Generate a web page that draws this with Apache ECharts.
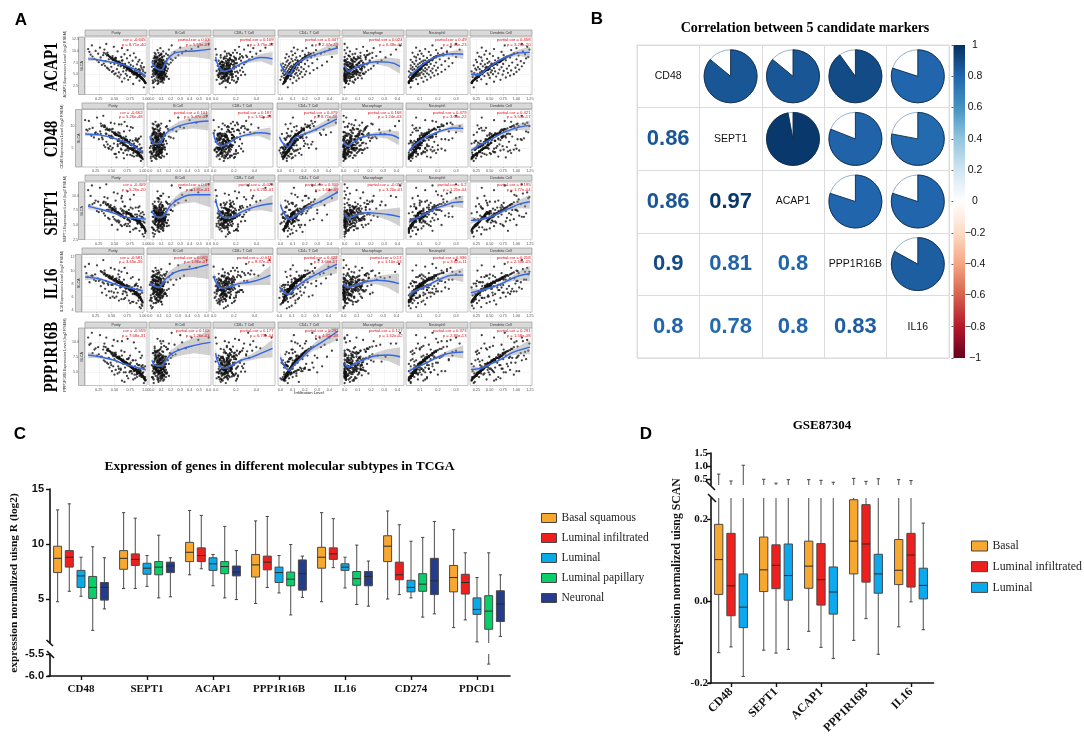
<!DOCTYPE html>
<html>
<head>
<meta charset="utf-8">
<title>BLCA markers</title>
<script src="https://cdn.jsdelivr.net/npm/echarts@6/dist/echarts.min.js"></script>
<style>
  html, body { margin: 0; background: #fff; }
  #main { width: 1084px; height: 739px; }
</style>
</head>
<body>
<div id="main"></div>
<script>
// panel A: one row per gene, one column per immune cell type
const genes = ['ACAP1', 'CD48', 'SEPT1', 'IL16', 'PPP1R16B']
const cellTypes = ['Purity', 'B Cell', 'CD8+ T Cell', 'CD4+ T Cell', 'Macrophage', 'Neutrophil', 'Dendritic Cell']

const geneRanges = [[0.65, 13], [0.6, 13.85], [2.5, 12.4], [3.64, 12.46], [2.8, 12.4]]
const geneTicks = [[2.5, 5, 7.5, 10, 12.5], [5, 10], [2.5, 5, 7.5, 10], [4, 6, 8, 10, 12], [5, 7.5, 10]]
const geneTickDec = [1, 0, 1, 0, 1]

const cellRanges = [[0.03, 1.02], [-0.03, 0.625], [-0.026, 0.584], [-0.02, 0.486], [-0.02, 0.45], [0.024, 0.366], [0.13, 1.29]]
const cellTicks = [[0.25, 0.5, 0.75, 1], [0, 0.1, 0.2, 0.3, 0.4, 0.5, 0.6], [0, 0.2, 0.4], [0, 0.1, 0.2, 0.3, 0.4], [0, 0.1, 0.2, 0.3, 0.4], [0.1, 0.2, 0.3], [0.25, 0.5, 0.75, 1, 1.25]]
const cellTickDec = [2, 1, 1, 1, 1, 1, 2]

// estimated samples, a thinned version of the cloud in the scatter panels
const xPurity = [.97,.80,.99,.62,.90,.72,.95,.66,.85,.58,.93,.75,.98,.55,.88,.70,.96,.60,.83,.92,.50,.94,.68,.86,.52,.99,.78,.57,.90,.46,.82,.96,.64,.74,.48,.91,.69,.87,.42,.95,.77,.54,.89,.40,.84,.65,.93,.38,.72,.97,.45,.80,.60,.35,.92,.56,.76,.30,.86,.50,.67,.33,.94,.44,.73,.25,.88,.58,.36,.79,.22,.63,.90,.41,.18,.70,.52,.84,.28,.61,.15,.47,.75,.32,.12,.66,.24,.81,.39,.10,.55,.20,.71,.34,.08,.62,.27,.49,.14,.37,
  .70,.93,.58,.86,.50,.97,.66,.80,.62,.90,.78,.42,.95,.72,.60,.99,.83,.65,.88,.47,.84,.55,.92,.74,.40,.76,.96,.63,.71,.89,.52,.82,.68,.98,.56,.79,.75,.94,.48,.69,.91,.61,.77,.36,1.0,.73,.64,.85,.87,.44,.67,.81,.57,.96,.72,.49,.90,.78,.53,.94,.70,.38,.84,.63,.98,.75,.46,.66,.92,.59,.80,.74,.88,.41,.77,.62,.97,.68,.83,.51,.86,.72,.45,.82,.60,.93,.69,.33,.76,.99,.55,.81,.71,.91,.43,.65,.85,.58,.89,.73,.79,.50,.95,.56,.84,.64,.92,.47,.75,.54,.87,.70,.39,.80,.61,.97,.74,.52,.86,.77]
const xB = [.02,.06,.01,.09,.04,.11,.03,.07,.12,.05,.00,.08,.13,.02,.10,.06,.14,.04,.09,.01,.11,.07,.03,.15,.05,.12,.08,.02,.10,.06,.13,.04,.09,.16,.01,.07,.11,.03,.14,.08,.05,.12,.02,.10,.17,.06,.09,.13,.04,.11,.00,.08,.15,.05,.12,.03,.10,.07,.18,.09,.02,.13,.06,.11,.20,.04,.08,.14,.01,.10,.22,.07,.12,.05,.16,.09,.25,.03,.11,.06,.19,.13,.08,.28,.10,.04,.15,.32,.07,.24,.12,.36,.06,.18,.42,.09,.30,.49,.21,.60,
  .07,.09,.12,.04,.08,.11,.06,.10,.03,.08,.13,.05,.09,.07,.11,.02,.06,.14,.08,.10,.12,.04,.07,.09,.17,.05,.11,.03,.08,.13,.06,.10,.02,.07,.15,.09,.04,.12,.08,.06,.11,.14,.03,.10,.07,.05,.09,.12,.16,.04,.08,.06,.11,.13,.03,.09,.07,.10,.05,.18,.12,.08,.04,.06,.10,.14,.02,.09,.11,.07,.05,.13,.08,.03,.10,.12,.06,.15,.09,.04,.11,.07,.20,.05,.08,.13,.10,.03,.06,.12,.09,.04,.14,.07,.11,.02,.08,.16,.10,.05,.06,.12,.09,.03,.13,.07,.10,.04,.08,.11,.15,.05,.09,.12,.06,.01,.10,.07,.14,.08]
const xCD8 = [.10,.04,.14,.07,.18,.01,.12,.05,.09,.16,.03,.13,.06,.20,.08,.11,.02,.15,.05,.10,.17,.07,.12,.03,.09,.22,.06,.14,.11,.04,.19,.08,.13,.01,.16,.10,.24,.05,.12,.07,.15,.09,.03,.18,.11,.06,.26,.13,.08,.20,.05,.14,.10,.23,.02,.12,.17,.07,.28,.11,.15,.04,.21,.09,.13,.30,.06,.18,.10,.25,.12,.00,.16,.33,.08,.20,.14,.27,.05,.36,.18,.11,.30,.15,.01,.24,.40,.13,.21,.34,.09,.44,.19,.28,.00,.37,.49,.23,.32,.55,
  .12,.08,.19,.05,.14,.10,.07,.16,.03,.11,.21,.09,.13,.06,.18,.12,.04,.08,.25,.15,.10,.07,.17,.13,.05,.09,.22,.11,.06,.14,.19,.04,.12,.08,.16,.27,.10,.07,.13,.05,.09,.20,.15,.11,.06,.18,.08,.12,.03,.24,.14,.10,.07,.16,.05,.12,.29,.09,.17,.06,.11,.15,.08,.13,.21,.04,.10,.19,.07,.12,.16,.05,.09,.26,.14,.06,.11,.18,.08,.13,.03,.10,.23,.07,.15,.12,.05,.17,.09,.20,.11,.06,.14,.08,.31,.13,.10,.04,.16,.07,.12,.18,.09,.05,.15,.11,.22,.08,.13,.06,.10,.17,.14,.07,.04,.12,.09,.20,.11,.15]
const xCD4 = [.06,.02,.10,.04,.13,.00,.08,.15,.03,.11,.05,.18,.01,.09,.14,.06,.03,.20,.07,.12,.04,.16,.09,.02,.24,.06,.13,.10,.05,.17,.08,.03,.21,.11,.06,.15,.01,.09,.27,.04,.13,.07,.19,.02,.10,.30,.05,.14,.08,.17,.03,.12,.23,.06,.09,.34,.04,.15,.11,.07,.20,.02,.13,.26,.08,.17,.05,.38,.10,.14,.22,.06,.12,.30,.09,.18,.04,.25,.13,.42,.07,.16,.28,.10,.20,.05,.33,.12,.23,.36,.09,.18,.29,.14,.40,.21,.11,.46,.26,.32,
  .10,.05,.15,.07,.19,.04,.11,.06,.14,.08,.09,.21,.05,.12,.13,.03,.10,.12,.06,.18,.08,.15,.05,.11,.23,.09,.04,.13,.10,.07,.20,.07,.12,.04,.16,.08,.10,.06,.17,.11,.06,.14,.09,.25,.03,.10,.13,.08,.05,.20,.12,.07,.15,.04,.10,.18,.07,.09,.16,.05,.11,.22,.08,.13,.03,.09,.19,.12,.06,.14,.08,.10,.06,.21,.09,.12,.04,.11,.07,.17,.06,.10,.18,.08,.13,.05,.11,.27,.09,.03,.15,.08,.10,.05,.20,.12,.07,.14,.06,.10,.09,.17,.04,.15,.07,.12,.05,.19,.09,.16,.06,.11,.24,.08,.13,.04,.10,.18,.07,.09]
const xMac = [.00,.03,.01,.06,.02,.08,.00,.04,.10,.01,.05,.00,.07,.03,.12,.02,.06,.00,.09,.04,.01,.14,.05,.00,.08,.03,.11,.02,.06,.16,.00,.04,.10,.07,.01,.13,.03,.18,.05,.00,.09,.02,.12,.06,.20,.01,.08,.04,.15,.00,.10,.03,.07,.22,.05,.12,.00,.09,.17,.02,.06,.14,.25,.04,.11,.01,.08,.19,.00,.13,.05,.28,.09,.16,.02,.12,.21,.07,.31,.00,.10,.24,.03,.15,.35,.06,.19,.01,.12,.27,.04,.17,.00,.39,.09,.22,.02,.14,.42,.00,
  .05,.00,.11,.03,.08,.00,.13,.02,.06,.01,.09,.04,.00,.07,.15,.01,.03,.10,.00,.06,.12,.02,.05,.00,.17,.08,.01,.04,.11,.00,.07,.03,.14,.00,.06,.02,.09,.01,.19,.05,.00,.10,.04,.08,.01,.13,.03,.06,.00,.16,.02,.07,.11,.00,.05,.09,.01,.04,.12,.00,.08,.03,.14,.06,.01,.00,.10,.05,.02,.18,.07,.00,.04,.12,.03,.09,.01,.06,.15,.00,.11,.02,.05,.08,.00,.13,.04,.21,.01,.07,.03,.10,.00,.06,.16,.02,.09,.05,.00,.12,.04,.01,.08,.14,.00,.06,.03,.11,.02,.07,.00,.05,.18,.09,.01,.04,.13,.00,.06,.03]
const xNeut = [.05,.09,.04,.12,.06,.14,.08,.05,.11,.16,.07,.04,.13,.09,.18,.06,.10,.15,.05,.12,.20,.08,.06,.14,.10,.17,.05,.11,.07,.22,.09,.13,.04,.16,.08,.12,.19,.06,.10,.14,.24,.07,.11,.17,.05,.13,.09,.20,.06,.15,.10,.26,.08,.12,.18,.05,.14,.22,.09,.16,.07,.12,.28,.10,.19,.06,.15,.11,.24,.08,.17,.13,.05,.21,.10,.26,.14,.08,.18,.30,.07,.12,.23,.16,.09,.28,.11,.20,.06,.15,.25,.10,.19,.32,.13,.22,.08,.27,.17,.30,
  .10,.06,.13,.07,.17,.05,.11,.09,.12,.08,.08,.19,.05,.11,.13,.04,.09,.12,.07,.16,.07,.14,.06,.10,.21,.09,.05,.12,.11,.07,.18,.08,.11,.04,.14,.08,.10,.06,.15,.10,.07,.13,.09,.23,.04,.10,.12,.08,.06,.19,.11,.07,.14,.05,.09,.17,.08,.08,.15,.05,.10,.20,.07,.13,.04,.09,.17,.11,.06,.13,.08,.10,.07,.19,.09,.12,.05,.10,.07,.15,.06,.09,.17,.08,.12,.06,.10,.25,.09,.04,.14,.08,.10,.06,.18,.11,.07,.13,.07,.09,.08,.16,.05,.14,.07,.12,.06,.18,.09,.15,.06,.10,.22,.08,.12,.05,.09,.16,.07,.08]
const xDend = [.20,.44,.17,.58,.26,.70,.34,.22,.50,.80,.30,.18,.62,.40,.88,.24,.48,.74,.19,.56,.95,.36,.27,.66,.46,.84,.21,.52,.32,1.0,.38,.60,.16,.76,.35,.54,.90,.25,.47,.68,1.05,.31,.50,.82,.23,.58,.42,.98,.28,.72,.44,1.10,.37,.55,.86,.20,.64,1.02,.41,.75,.33,.53,1.14,.46,.92,.26,.70,.49,1.08,.36,.80,.60,.24,1.00,.45,1.18,.66,.34,.88,1.22,.30,.56,1.04,.76,.40,1.16,.50,.96,.27,.72,1.12,.43,.90,1.24,.58,1.00,.35,1.20,.78,1.10,
  .45,.27,.62,.33,.74,.19,.51,.36,.66,.30,.40,.82,.24,.47,.58,.17,.42,.55,.31,.70,.35,.64,.26,.44,.90,.41,.22,.60,.49,.32,.78,.34,.52,.18,.68,.38,.46,.25,.72,.50,.29,.59,.43,.95,.16,.48,.56,.37,.28,.80,.53,.33,.63,.21,.45,.76,.30,.39,.69,.23,.47,.88,.35,.57,.17,.42,.79,.51,.26,.61,.37,.46,.29,.85,.40,.54,.20,.49,.34,.71,.31,.44,.75,.36,.60,.24,.50,1.02,.41,.16,.65,.38,.48,.27,.83,.52,.33,.58,.30,.45,.40,.73,.22,.67,.35,.53,.25,.77,.43,.69,.28,.47,.92,.39,.56,.19,.44,.74,.32,.41]
const yACAP1 = [2.2,2.9,3.1,3.4,3.6,3.8,3.9,4.1,4.2,4.3,4.4,4.4,4.5,4.6,4.7,4.7,4.8,4.9,4.9,5.0,5.0,5.1,5.1,5.2,5.2,5.3,5.3,5.4,5.4,5.5,5.5,5.6,5.6,5.7,5.7,5.8,5.8,5.9,5.9,6.0,6.0,6.1,6.1,6.2,6.2,6.3,6.4,6.4,6.5,6.5,6.6,6.7,6.7,6.8,6.8,6.9,7.0,7.0,7.1,7.2,7.2,7.3,7.4,7.4,7.5,7.6,7.7,7.7,7.8,7.9,8.0,8.0,8.1,8.2,8.3,8.4,8.5,8.6,8.6,8.7,8.8,8.9,9.0,9.1,9.2,9.3,9.4,9.5,9.6,9.8,9.9,10.0,10.2,10.3,10.4,10.6,10.7,10.9,11.2,11.5,
  6.1,4.3,7.4,5.2,8.3,3.6,6.7,5.0,7.9,4.6,5.6,8.8,4.1,6.4,7.1,3.3,5.9,6.9,4.8,8.1,5.3,7.6,4.4,6.2,9.1,5.7,3.9,7.2,6.5,4.9,8.5,5.1,6.8,3.5,7.7,5.5,6.0,4.2,8.0,6.6,4.7,7.3,5.8,9.4,3.1,6.3,7.0,5.4,4.5,8.6,6.9,5.0,7.5,3.8,6.1,8.2,4.9,5.6,7.8,4.0,6.4,9.0,5.2,7.1,3.4,5.9,8.4,6.7,4.3,7.4,5.5,6.2,4.6,8.9,5.7,7.0,3.7,6.5,5.1,7.9,4.8,6.0,8.3,5.3,7.2,4.1,6.6,9.6,5.8,3.2,7.6,5.4,6.3,4.4,8.7,6.8,5.0,7.3,4.7,6.1,5.6,8.0,3.9,7.5,5.2,6.9,4.2,8.5,5.9,7.7,4.5,6.4,9.2,5.5,7.1,3.6,6.2,8.1,4.9,5.7]
const yCD48 = [2.0,3.4,2.6,4.0,3.2,4.4,3.0,4.6,3.8,2.8,4.0,3.4,5.0,3.6,4.4,2.6,4.8,5.4,3.2,4.2,4.6,3.8,5.6,3.0,5.0,4.2,6.2,3.6,5.2,4.8,5.6,4.0,6.0,4.6,5.4,6.8,3.8,5.0,6.4,5.8,4.4,6.0,7.2,5.2,6.6,4.8,7.0,5.6,6.2,7.6,5.0,6.8,5.8,7.4,6.4,8.0,5.4,7.0,6.0,7.8,6.6,8.2,7.2,5.8,7.6,8.6,6.8,8.0,7.0,9.0,7.4,8.4,6.6,9.2,7.8,8.8,7.2,9.6,8.2,8.6,9.4,7.6,10.0,8.8,9.0,10.4,8.4,9.8,10.2,9.2,10.6,9.6,11.0,10.0,11.4,10.4,12.0,10.8,11.2,12.4,
  6.4,3.6,7.9,4.4,9.2,2.8,7.3,5.8,7.0,4.2,6.3,8.2,3.4,5.6,8.0,3.9,5.0,7.6,5.4,9.0,4.6,8.3,3.2,6.8,9.8,5.0,4.5,6.6,7.2,4.0,9.4,5.9,6.1,3.0,8.6,4.8,6.8,3.7,7.4,7.4,5.3,6.7,6.4,10.2,2.4,5.6,7.8,4.7,5.1,9.2,6.2,5.7,8.2,3.2,6.9,7.6,4.2,6.3,8.6,3.6,5.7,9.8,4.5,7.8,2.9,6.6,7.8,7.3,3.8,8.1,4.9,6.9,5.1,8.3,5.0,7.7,3.3,7.1,4.5,8.7,4.1,6.7,9.1,4.7,6.6,4.7,5.9,10.6,6.4,2.7,8.3,4.8,7.0,3.8,9.5,6.2,5.6,8.0,4.1,5.5,6.2,7.3,3.3,8.2,4.5,7.6,3.6,9.3,5.3,8.4,5.1,5.8,10.0,4.9,7.8,3.0,6.9,7.5,5.5,5.1]
const ySEPT1 = [3.0,4.2,3.6,4.8,4.0,5.2,3.4,5.0,4.4,5.6,4.6,3.8,5.4,4.2,5.8,4.8,6.2,5.0,4.4,5.6,6.0,4.6,5.2,6.4,5.8,4.0,6.0,5.4,6.6,5.0,6.2,5.6,7.0,4.8,6.4,5.8,6.8,5.2,6.0,7.2,6.6,5.6,7.4,6.2,5.8,7.0,6.4,7.6,6.0,6.8,7.2,6.4,7.8,6.6,7.0,5.8,8.0,7.4,6.8,7.6,8.2,7.0,6.4,8.4,7.6,7.2,8.0,6.8,8.6,7.8,7.4,9.0,8.2,7.6,8.8,7.0,9.2,8.0,8.4,9.6,8.6,7.8,9.4,8.8,10.0,8.2,9.0,10.2,9.6,8.4,10.4,9.2,10.8,9.8,11.0,10.0,11.4,10.6,11.8,12.0,
  7.2,5.0,7.0,5.9,8.1,4.6,6.2,6.1,7.4,5.5,6.6,8.0,4.9,7.0,6.5,4.2,6.8,6.3,5.6,7.5,6.0,7.1,5.2,5.7,8.6,6.7,4.7,7.6,6.0,5.8,7.8,6.1,6.4,4.5,7.2,6.4,5.5,5.1,7.7,7.0,5.4,6.8,6.9,8.9,3.9,7.0,6.4,6.2,5.3,8.0,6.4,5.9,7.0,4.8,7.0,7.7,5.7,6.4,7.2,4.9,7.1,8.4,6.1,6.6,4.3,6.9,7.8,6.2,5.2,6.9,6.3,5.8,5.5,8.3,6.6,6.5,4.6,7.2,5.9,7.3,5.7,7.0,7.6,6.1,6.7,5.0,7.3,9.0,6.7,4.1,7.0,6.2,5.9,5.3,8.1,7.4,5.8,6.8,5.6,6.9,6.5,7.4,4.8,7.0,6.0,6.4,5.1,7.9,6.8,7.2,5.4,7.1,8.6,6.3,6.6,4.5,7.0,7.5,5.7,6.5]
const yIL16 = [4.2,5.0,4.6,5.4,5.0,5.8,4.4,5.6,5.2,6.0,5.4,6.2,4.8,5.8,6.4,5.6,6.0,6.6,5.2,6.2,6.8,5.8,6.4,7.0,6.0,6.6,5.4,7.2,6.2,6.8,7.0,6.4,7.4,6.6,5.8,7.2,6.8,7.6,6.2,7.0,7.4,6.6,7.8,7.2,6.4,7.6,7.0,8.0,6.8,7.4,7.8,7.2,8.2,6.6,7.6,8.0,7.4,8.4,7.0,7.8,8.2,7.6,8.6,8.0,7.2,8.4,7.8,8.8,8.2,7.6,8.6,9.0,8.0,8.4,9.2,8.6,7.8,9.0,8.8,9.4,8.2,9.2,9.6,8.6,9.0,9.8,9.4,8.8,10.0,9.6,10.2,9.2,10.4,9.8,10.6,10.0,10.8,10.4,11.0,11.6,
  7.8,6.4,8.4,7.0,9.0,5.6,7.5,7.1,8.6,6.5,7.2,9.2,6.0,7.6,8.2,5.3,7.4,8.0,6.7,8.8,7.0,8.5,6.3,7.3,9.5,7.7,5.9,8.1,7.6,6.6,9.1,7.2,7.9,5.5,8.7,7.0,7.5,6.2,8.9,7.9,6.6,8.2,7.3,9.7,5.1,7.5,8.3,6.9,6.4,9.3,8.0,6.8,8.6,5.8,7.4,8.8,6.7,7.1,8.5,6.1,7.7,9.4,7.0,8.3,5.4,7.6,9.0,7.8,6.3,8.4,7.1,7.8,6.5,9.2,7.3,8.1,5.7,7.9,7.0,8.7,6.8,7.4,9.0,7.2,8.3,6.0,7.7,9.9,7.4,5.2,8.4,7.0,7.6,6.3,9.3,8.1,6.9,8.2,6.6,7.5,7.3,8.7,5.9,8.5,7.1,7.8,6.2,9.1,7.5,8.6,6.4,7.6,9.6,7.0,8.1,5.5,7.4,8.9,6.8,7.2]
const yPPP1R16B = [3.2,3.8,4.2,3.6,4.4,4.0,4.8,3.4,4.6,5.0,4.2,5.2,3.8,4.8,5.4,4.4,5.0,5.6,4.0,5.2,4.6,5.8,5.0,4.2,5.4,6.0,4.8,5.6,6.2,5.2,4.6,5.8,6.4,5.0,6.0,5.4,6.6,4.8,5.8,6.2,5.2,6.8,5.6,6.4,7.0,5.0,6.0,6.6,7.2,5.6,6.2,7.0,5.4,6.8,7.4,6.0,6.6,7.6,6.4,7.2,5.8,7.0,7.8,6.6,7.4,8.0,6.2,7.6,8.2,7.0,7.8,6.8,8.4,7.4,8.8,7.2,8.0,9.0,7.6,8.6,8.2,9.4,7.8,8.8,9.8,8.4,9.2,10.0,8.6,9.6,10.2,9.0,10.6,9.8,10.8,10.2,11.2,10.4,11.6,10.8,
  6.3,4.8,7.5,5.4,8.2,4.2,6.6,5.5,7.8,4.9,5.8,8.5,4.4,6.3,7.2,3.8,6.0,6.9,5.1,7.9,5.6,7.4,4.7,6.4,8.9,5.9,4.3,7.0,6.5,5.2,8.3,5.3,6.7,4.0,7.6,5.7,6.1,4.6,7.7,6.6,5.0,7.2,5.9,9.2,3.7,6.2,7.1,5.5,4.8,8.4,6.8,5.2,7.4,4.3,6.2,8.0,5.1,5.7,7.6,4.4,6.5,8.7,5.4,7.0,3.9,6.0,8.2,6.6,4.6,7.3,5.7,6.3,4.9,8.6,5.9,6.9,4.1,6.4,5.3,7.7,5.0,6.1,8.1,5.5,7.1,4.5,6.5,9.3,5.9,3.6,7.4,5.6,6.4,4.7,8.5,6.7,5.2,7.2,4.9,6.2,5.8,7.8,4.2,7.3,5.4,6.8,4.5,8.3,6.0,7.5,4.8,6.3,8.9,5.6,7.0,4.0,6.2,7.9,5.1,5.8]
const sampleX = [xPurity, xB, xCD8, xCD4, xMac, xNeut, xDend]
const sampleY = [yACAP1, yCD48, ySEPT1, yIL16, yPPP1R16B]

// fitted curves: x knots per cell type, y per gene and cell type, band half width per cell type
const fitKnots = [
  [.08, .2, .35, .5, .65, .8, .9, 1],
  [0, .05, .1, .15, .2, .3, .45, .62],
  [0, .03, .08, .15, .25, .35, .45, .56],
  [0, .03, .07, .12, .18, .25, .35, .47],
  [0, .03, .07, .12, .18, .25, .33, .42],
  [.04, .07, .11, .15, .19, .24, .29, .34],
  [.15, .3, .45, .6, .75, .9, 1.05, 1.25],
]
const fitBand = [
  [.5, .3, .2, .15, .15, .15, .2, .35],
  [.25, .2, .2, .4, .7, 1, 1.3, 2.2],
  [.7, .3, .2, .2, .3, .5, .8, 1.5],
  [.6, .3, .2, .2, .3, .5, .9, 1.4],
  [.4, .25, .2, .25, .35, .6, 1, 1.6],
  [.5, .25, .2, .2, .25, .4, .7, 1.1],
  [.6, .3, .2, .2, .25, .4, .7, 1.2],
]
const fitACAP1 = [[8.3, 8.2, 7.8, 7.5, 7, 6.2, 5.5, 4.6], [7.6, 6.2, 5.9, 7.6, 9, 9.8, 10, 10.4], [8.7, 6.6, 5.6, 6, 7.3, 8.1, 8.6, 8.3], [7.3, 5.8, 5, 6.9, 8.1, 8.9, 9.8, 10.7], [6.9, 5.6, 6.2, 6.9, 7.4, 7.7, 7.6, 6.7], [4.6, 5.5, 6.9, 8, 8.7, 9.2, 9.4, 9.3], [5, 4.9, 6.2, 7.4, 8.4, 9.1, 9.6, 9.7]]
const fitCD48 = [[8.2, 8.1, 7.9, 7.4, 6.7, 5.9, 5, 4], [7.7, 6, 6, 7.7, 8.9, 10, 10.8, 11.2], [8.3, 6.2, 5.4, 6.2, 7.5, 8.1, 8.5, 8.2], [7.5, 6, 5.2, 7.2, 8, 8.7, 10, 11.7], [6.5, 5.4, 6.2, 7.2, 7.8, 8.1, 8.1, 7.2], [4.2, 5.6, 6.9, 7.8, 8.5, 9.2, 9.6, 9.5], [4.4, 5.6, 6.5, 7.5, 8.5, 9.2, 9.8, 10.2]]
const fitSEPT1 = [[8.2, 7.9, 7.5, 7, 6.4, 6.2, 6.1, 6], [7.5, 6.4, 6.3, 7.2, 8.4, 9.6, 10.2, 10.2], [9.5, 7.5, 6.3, 6.3, 7.2, 7.9, 8.4, 8.7], [8.5, 7, 6, 6.5, 7.5, 8.3, 9.3, 10.7], [7, 6.2, 6.5, 7, 7.1, 7, 6.8, 6.4], [5.5, 6, 6.6, 7.2, 7.9, 8.4, 8.9, 9], [5.8, 5.9, 6.2, 6.7, 7.4, 8, 8.6, 9]]
const fitIL16 = [[9, 8.9, 8.6, 8.1, 7.6, 7.3, 7.1, 6.9], [8.1, 7.6, 7.4, 8.4, 9.1, 9.9, 10.3, 10.9], [9.2, 8, 7.3, 7.5, 8, 8.2, 8.6, 9.3], [7.5, 6.8, 6.3, 7.1, 8.1, 8.9, 9.9, 11], [8, 7.4, 7.6, 8, 8.3, 8.5, 8.4, 8], [6.3, 6.8, 7.3, 7.8, 8.4, 9, 9.3, 9.3], [6.6, 6.9, 7.2, 7.6, 8.1, 8.7, 9.2, 9.5]]
const fitPPP1R16B = [[7.9, 7.7, 7.4, 7, 6.4, 6, 5.7, 5.4], [7, 6.1, 6.1, 7, 8, 8.8, 9.5, 10], [8.2, 6.4, 5.7, 6.1, 7, 7.5, 8.2, 9], [7.5, 6.1, 5.3, 6.4, 7.5, 8.9, 10.2, 11.9], [6.5, 5.9, 6.3, 6.9, 7.4, 7.8, 7.9, 7.6], [5.2, 5.7, 6.2, 6.8, 7.4, 8, 8.3, 8.4], [5.5, 5.6, 6.1, 6.7, 7.4, 8.2, 8.7, 9.2]]
const fitCurves = [fitACAP1, fitCD48, fitSEPT1, fitIL16, fitPPP1R16B]

const corACAP1 = ['cor = -0.645|p = 8.71e-40', 'partial.cor = 0.03|p = 5.53e-01', 'partial.cor = 0.109|p = 3.75e-02', 'partial.cor = 0.447|p = 2.47e-19', 'partial.cor = 0.024|p = 6.48e-01', 'partial.cor = 0.49|p = 8.45e-23', 'partial.cor = 0.458|p = 3.26e-20']
const corCD48 = ['cor = -0.662|p = 5.26e-48', 'partial.cor = 0.101|p = 5.47e-02', 'partial.cor = 0.187|p = 1.32e-03', 'partial.cor = 0.479|p = 8.71e-16', 'partial.cor = 0.168|p = 1.24e-03', 'partial.cor = 0.479|p = 3.60e-22', 'partial.cor = 0.421|p = 5.53e-17']
const corSEPT1 = ['cor = -0.409|p = 5.26e-20', 'partial.cor = 0.07|p = 1.81e-01', 'partial.cor = -0.026|p = 6.25e-01', 'partial.cor = 0.309|p = 1.62e-09', 'partial.cor = -0.052|p = 3.20e-01', 'partial.cor = 0.2|p = 1.21e-04', 'partial.cor = 0.195|p = 1.77e-04']
const corIL16 = ['cor = -0.581|p = 3.65e-36', 'partial.cor = 0.069|p = 1.86e-01', 'partial.cor = -0.011|p = 8.37e-01', 'partial.cor = 0.422|p = 3.66e-17', 'partial.cor = 0.17|p = 1.10e-03', 'partial.cor = 0.336|p = 3.62e-11', 'partial.cor = 0.218|p = 2.55e-05']
const corPPP1R16B = ['cor = -0.559|p = 7.68e-31', 'partial.cor = 0.168|p = 1.26e-03', 'partial.cor = 0.177|p = 6.73e-04', 'partial.cor = 0.292|p = 4.32e-08', 'partial.cor = 0.127|p = 1.52e-02', 'partial.cor = 0.373|p = 2.80e-13', 'partial.cor = 0.291|p = 1.58e-08']
const corTexts = [corACAP1, corCD48, corSEPT1, corIL16, corPPP1R16B]

// panel B
const markers = ['CD48', 'SEPT1', 'ACAP1', 'PPP1R16B', 'IL16']
const corrCD48 = [1, 0.86, 0.86, 0.9, 0.8]
const corrSEPT1 = [0.86, 1, 0.97, 0.81, 0.78]
const corrACAP1 = [0.86, 0.97, 1, 0.8, 0.8]
const corrPPP1R16B = [0.9, 0.81, 0.8, 1, 0.83]
const corrIL16 = [0.8, 0.78, 0.8, 0.83, 1]
const corrMatrix = [corrCD48, corrSEPT1, corrACAP1, corrPPP1R16B, corrIL16]
const rdbu = ['#67001F', '#B2182B', '#D6604D', '#F4A582', '#FDDBC7', '#FFFFFF', '#D1E5F0', '#92C5DE', '#4393C3', '#2166AC', '#053061']

// panel C: [min, q1, median, q3, max] per gene
const tcgaGenes = ['CD48', 'SEPT1', 'ACAP1', 'PPP1R16B', 'IL16', 'CD274', 'PDCD1']
const tcgaBasal = [[4.75, 7.4, 8.7, 9.8, 13.1], [5.95, 7.7, 8.7, 9.4, 12.85], [7.2, 8.4, 9.25, 10.15, 13.05], [4.6, 7, 8.1, 9.05, 12.1], [4.75, 7.8, 8.8, 9.7, 12.85], [5, 8.4, 9.8, 10.75, 13], [2.4, 5.65, 6.95, 8.05, 11.3]]
const tcgaInfiltrated = [[5.7, 7.9, 8.8, 9.4, 13.65], [5.95, 8.05, 8.6, 9.1, 12.35], [7.75, 8.4, 8.95, 9.65, 12.6], [6.05, 7.65, 8.35, 8.9, 12.5], [7.85, 8.6, 9.1, 9.65, 12.3], [5.4, 6.75, 7.2, 8.35, 11.75], [3.1, 5.45, 6.5, 7.25, 9.2]]
const tcgaLuminal = [[5.25, 6.05, 7.1, 7.6, 8.8], [6.15, 7.25, 7.8, 8.25, 8.95], [6.2, 7.6, 8.2, 8.75, 9.05], [5.55, 6.5, 7.4, 7.9, 8.95], [6, 7.6, 7.9, 8.2, 8.8], [5.1, 5.65, 6.05, 6.7, 10.25], [1.1, 3.6, 4.05, 5.1, 6.95]]
const tcgaPapillary = [[2.15, 5.05, 6.05, 7.05, 9.75], [5.1, 7.2, 7.9, 8.4, 10.8], [5.1, 7.3, 7.95, 8.4, 11.6], [3.55, 6.2, 6.8, 7.45, 9.95], [4.5, 6.25, 6.85, 7.5, 9.9], [3.35, 5.7, 6.35, 7.3, 10.6], [-5.73, 2.25, 3.9, 5.3, 9.2]]
const tcgaNeuronal = [[4.1, 4.9, 6.05, 6.5, 8.75], [5.2, 7.4, 8, 8.35, 8.75], [4.95, 7.1, 7.45, 8, 9.4], [5.15, 5.8, 7.3, 8.55, 8.9], [4.35, 6.2, 7.05, 7.5, 8.45], [3.65, 5.4, 6.65, 8.7, 12.05], [1.6, 2.95, 4.55, 5.75, 7.2]]

// panel D
const gseGenes = ['CD48', 'SEPT1', 'ACAP1', 'PPP1R16B', 'IL16']
const gseBasal = [[-0.126, 0.016, 0.101, 0.187, 0.69], [-0.12, 0.023, 0.076, 0.156, 0.49], [-0.074, 0.031, 0.085, 0.146, 0.475], [-0.096, 0.066, 0.146, 0.247, 0.525], [-0.063, 0.04, 0.075, 0.15, 0.475]]
const gseInfiltrated = [[-0.112, -0.036, 0.037, 0.165, 0.425], [-0.127, 0.03, 0.087, 0.137, 0.34], [-0.113, -0.01, 0.052, 0.14, 0.45], [-0.043, 0.046, 0.139, 0.235, 0.41], [-0.002, 0.034, 0.112, 0.165, 0.44]]
const gseLuminal = [[-0.184, -0.065, -0.015, 0.066, 1.03], [-0.118, 0.002, 0.062, 0.139, 0.475], [-0.14, -0.032, 0.022, 0.083, 0.375], [-0.13, 0.019, 0.066, 0.114, 0.51], [-0.07, 0.005, 0.038, 0.08, 0.19]]

const orange = '#F9A82F'
const red = '#EE1F1C'
const sky = '#0AA9E8'
const green = '#08CF6A'
const navy = '#253B8C'

const serif = '"Liberation Serif", serif'
const sans = '"Liberation Sans", sans-serif'

const grid = []
const xAxis = []
const yAxis = []
const series = []
const elements = []

function txt(x, y, text, font, fill, opts) {
  elements.push(Object.assign({
    type: 'text', x, y, silent: true, z: 100,
    style: { text, font, fill: fill || '#000', align: 'center', verticalAlign: 'middle' },
  }, opts))
}

function addGrid(box, x, y) {
  grid.push(box)
  const i = grid.length - 1
  xAxis.push(Object.assign({ gridIndex: i }, x))
  yAxis.push(Object.assign({ gridIndex: i }, y))
  return i
}

// ---- panel A ----
const stripTops = [30, 103, 175, 248, 322]
const panelTops = [37, 109.5, 182, 254.5, 328]
const panelHeight = 57.5
const colLeftsA = [85, 149, 213, 278, 342, 406, 470]
const colLeftsB = [82, 147, 211, 277, 341, 406, 470]
const colWidth = 62
const geneLabelY = [67, 139, 213, 284, 357]

genes.forEach((gene, r) => {
  const lefts = r % 2 === 0 ? colLeftsA : colLeftsB
  const left0 = lefts[0]
  txt(52, geneLabelY[r], gene, 'bold 18px ' + serif, '#000', { rotation: Math.PI / 2, scaleX: 0.83 })
  txt(left0 - 20, panelTops[r] + 27, gene + ' Expression Level (log2 RSEM)', '3.9px ' + sans, '#333', { rotation: Math.PI / 2 })
  elements.push({
    type: 'rect', silent: true,
    shape: { x: left0 - 6.5, y: panelTops[r], width: 6, height: panelHeight },
    style: { fill: '#d9d9d9', stroke: '#9a9a9a', lineWidth: 0.7 },
  })
  txt(left0 - 3.5, panelTops[r] + panelHeight / 2, 'BLCA', '3.6px ' + sans, '#333', { rotation: Math.PI / 2 })

  cellTypes.forEach((cell, c) => {
    const left = lefts[c]
    elements.push({
      type: 'rect', silent: true,
      shape: { x: left, y: stripTops[r], width: colWidth, height: 6 },
      style: { fill: '#d9d9d9', stroke: '#9a9a9a', lineWidth: 0.7 },
    })
    txt(left + colWidth / 2, stripTops[r] + 3.2, cell, '3.6px ' + sans, '#333')

    const gi = addGrid(
      { left, top: panelTops[r], width: colWidth, height: panelHeight, show: true, borderColor: '#b5b5b5', borderWidth: 0.8, backgroundColor: '#fff' },
      {
        type: 'value', min: cellRanges[c][0], max: cellRanges[c][1],
        axisLine: { show: false },
        axisTick: { show: true, length: 1, lineStyle: { color: '#888', width: 0.5 }, customValues: cellTicks[c] },
        axisLabel: { show: true, margin: 2, fontSize: 3.8, color: '#555', customValues: cellTicks[c], formatter: v => v.toFixed(cellTickDec[c]) },
        splitLine: { show: true, lineStyle: { color: '#efefef', width: 0.6 } },
      },
      {
        type: 'value', min: geneRanges[r][0], max: geneRanges[r][1],
        axisLine: { show: false },
        axisTick: { show: c === 0, length: 1, lineStyle: { color: '#888', width: 0.5 }, customValues: geneTicks[r] },
        axisLabel: { show: false },
        splitLine: { show: true, lineStyle: { color: '#efefef', width: 0.6 } },
      }
    )
    if (c === 0) {
      geneTicks[r].forEach(t => {
        const span = geneRanges[r][1] - geneRanges[r][0]
        const py = panelTops[r] + panelHeight * (geneRanges[r][1] - t) / span
        txt(left0 - 9.5, py, t.toFixed(geneTickDec[r]), '3.6px ' + sans, '#555')
      })
    }

    const points = sampleX[c].map((x, i) => [x, sampleY[r][i]])
    const knots = fitKnots[c]
    const fit = fitCurves[r][c]
    const band = fitBand[c]
    series.push({
      type: 'scatter', xAxisIndex: gi, yAxisIndex: gi, data: points, silent: true,
      symbolSize: 2.3, itemStyle: { color: '#111' }, z: 2,
    })
    series.push({
      type: 'custom', xAxisIndex: gi, yAxisIndex: gi, silent: true, clip: true, z: 3,
      encode: { x: 0, y: [1, 2] },
      data: knots.map((x, i) => [x, fit[i] - band[i], fit[i] + band[i]]),
      renderItem(params, api) {
        if (params.dataIndex !== 0) return null
        const upper = knots.map((x, i) => api.coord([x, fit[i] + band[i]]))
        const lower = knots.map((x, i) => api.coord([x, fit[i] - band[i]])).reverse()
        return { type: 'polygon', shape: { points: upper.concat(lower) }, style: { fill: '#9a9a9a', opacity: 0.45 } }
      },
    })
    series.push({
      type: 'line', xAxisIndex: gi, yAxisIndex: gi, silent: true,
      data: knots.map((x, i) => [x, fit[i]]), smooth: true,
      showSymbol: false, lineStyle: { color: '#3366E8', width: 1.4 }, z: 4,
    })

    const lines = corTexts[r][c].split('|')
    lines.forEach((line, k) => {
      txt(left + colWidth - 1.5, panelTops[r] + 3.2 + k * 4.4, line, '4.2px ' + sans, '#E0101A', {
        style: { text: line, font: '4.2px ' + sans, fill: '#E0101A', align: 'right', verticalAlign: 'middle' },
      })
    })
  })
})
txt(309, 393, 'Infiltration Level', '4.2px ' + sans, '#222')

// ---- panel B ----
const cellLine = { show: true, interval: 0, lineStyle: { color: '#dcdcdc', width: 1 } }
const gb = addGrid(
  { left: 637, top: 45, width: 312, height: 313, show: true, borderColor: '#dcdcdc', borderWidth: 1 },
  { type: 'category', data: markers, axisLine: { show: false }, axisTick: { show: false }, axisLabel: { show: false }, splitLine: cellLine },
  { type: 'category', data: markers, inverse: true, axisLine: { show: false }, axisTick: { show: false }, axisLabel: { show: false }, splitLine: cellLine }
)

function corrColor(v) {
  const pos = ((v + 1) / 2) * (rdbu.length - 1)
  const i = Math.min(Math.floor(pos), rdbu.length - 2)
  const t = pos - i
  const a = echarts.color.parse(rdbu[i])
  const b = echarts.color.parse(rdbu[i + 1])
  return `rgb(${a[0] + (b[0] - a[0]) * t},${a[1] + (b[1] - a[1]) * t},${a[2] + (b[2] - a[2]) * t})`
}

const corrCells = []
corrMatrix.forEach((row, r) => row.forEach((v, c) => corrCells.push([c, r, v])))

series.push({
  type: 'custom', xAxisIndex: gb, yAxisIndex: gb, silent: true, data: corrCells,
  encode: { x: 0, y: 1 },
  renderItem(params, api) {
    const c = api.value(0)
    const r = api.value(1)
    const v = api.value(2)
    const [cx, cy] = api.coord([c, r])
    if (c === r) {
      return { type: 'text', style: { text: markers[c], x: cx, y: cy, font: '10.5px ' + sans, fill: '#111', align: 'center', verticalAlign: 'middle' } }
    }
    if (c < r) {
      return { type: 'text', style: { text: String(v), x: cx, y: cy, font: 'bold 22px ' + sans, fill: corrColor(v), align: 'center', verticalAlign: 'middle' } }
    }
    const radius = 26.5
    const start = -Math.PI / 2
    return {
      type: 'group',
      children: [
        { type: 'circle', shape: { cx, cy, r: radius }, style: { fill: '#fff', stroke: '#8aa9c6', lineWidth: 0.9 } },
        {
          type: 'sector',
          shape: { cx, cy, r: radius, r0: 0, startAngle: start, endAngle: start + 2 * Math.PI * v, clockwise: true },
          style: { fill: corrColor(v), stroke: '#0d2a4a', lineWidth: 0.9 },
        },
      ],
    }
  },
})

// colour bar with its own value axis
const gbar = addGrid(
  { left: 953.5, top: 45, width: 11.5, height: 313 },
  { type: 'value', min: 0, max: 1, show: false },
  {
    type: 'value', min: -1, max: 1, interval: 0.2, position: 'right',
    axisLine: { show: false },
    axisTick: { show: true, inside: true, length: 2, lineStyle: { color: '#333', width: 0.8 } },
    splitLine: { show: false },
    axisLabel: { margin: 10, fontSize: 10.5, color: '#111', fontFamily: sans, align: 'center', formatter: v => String(+v.toFixed(1)).replace('-', '\u2212') },
  }
)
series.push({
  type: 'custom', xAxisIndex: gbar, yAxisIndex: gbar, silent: true, data: [[0, -1, 1, 1]],
  z: 1,
  renderItem(params, api) {
    const a = api.coord([api.value(0), api.value(1)])
    const b = api.coord([api.value(3), api.value(2)])
    return {
      type: 'rect',
      shape: { x: a[0], y: b[1], width: b[0] - a[0], height: a[1] - b[1] },
      style: {
        fill: new echarts.graphic.LinearGradient(0, 1, 0, 0, rdbu.map((color, i) => ({ offset: i / (rdbu.length - 1), color }))),
      },
    }
  },
})

// ---- box plots C and D ----
function boxRenderer(offset, boxWidth) {
  return function (params, api) {
    const cat = api.value(0)
    const xc = api.coord([cat, 0])[0] + offset
    const y = i => api.coord([cat, api.value(i)])[1]
    const [ymin, q1, med, q3, ymax] = [y(1), y(2), y(3), y(4), y(5)]
    const cap = boxWidth * 0.2
    const wStyle = { stroke: '#5c5c5c', lineWidth: 1.1 }
    const capStyle = { stroke: '#444', lineWidth: 1 }
    return {
      type: 'group',
      children: [
        { type: 'line', shape: { x1: xc, y1: ymax, x2: xc, y2: ymin }, style: wStyle },
        { type: 'line', shape: { x1: xc - cap, y1: ymax, x2: xc + cap, y2: ymax }, style: capStyle },
        { type: 'line', shape: { x1: xc - cap, y1: ymin, x2: xc + cap, y2: ymin }, style: capStyle },
        { type: 'rect', shape: { x: xc - boxWidth / 2, y: q3, width: boxWidth, height: q1 - q3 }, style: { fill: api.visual('color'), stroke: '#4a4a4a', lineWidth: 1 } },
        { type: 'line', shape: { x1: xc - boxWidth / 2, y1: med, x2: xc + boxWidth / 2, y2: med }, style: { stroke: '#2a2a2a', lineWidth: 1 } },
      ],
    }
  }
}

function addBoxes(name, color, rows, gi, offset, boxWidth) {
  series.push({
    type: 'custom', name, xAxisIndex: gi, yAxisIndex: gi, silent: true, clip: true,
    itemStyle: { color },
    encode: { x: 0, y: [1, 5] },
    data: rows.map((row, i) => [i].concat(row)),
    renderItem: boxRenderer(offset, boxWidth),
  })
}

const axisBlack = { show: true, onZero: false, lineStyle: { color: '#111', width: 1.6 } }
const tickBlack = { show: true, length: 4, lineStyle: { color: '#111', width: 1.4 } }

// panel C
const cTop = addGrid(
  { left: 48, top: 489, width: 462, height: 154 },
  { type: 'category', data: tcgaGenes, show: false },
  {
    type: 'value', min: 1, max: 15, offset: -2, axisLine: axisBlack, splitLine: { show: false },
    axisTick: Object.assign({ customValues: [5, 10, 15] }, tickBlack),
    axisLabel: { customValues: [5, 10, 15], fontSize: 11, fontWeight: 'bold', fontFamily: sans, color: '#111', margin: 6 },
  }
)
const cBot = addGrid(
  { left: 48, top: 654, width: 462, height: 22 },
  {
    type: 'category', data: tcgaGenes, axisLine: axisBlack,
    axisTick: Object.assign({ alignWithLabel: true }, tickBlack),
    axisLabel: { interval: 0, fontSize: 11, fontWeight: 'bold', fontFamily: serif, color: '#111', margin: 8 },
  },
  {
    type: 'value', min: -6, max: -5.5, offset: -2, axisLine: axisBlack, splitLine: { show: false },
    axisTick: Object.assign({ customValues: [-6, -5.5] }, tickBlack),
    axisLabel: { customValues: [-6, -5.5], fontSize: 11, fontWeight: 'bold', fontFamily: sans, color: '#111', margin: 6, formatter: v => v.toFixed(1) },
  }
)
const tcgaGroups = [
  ['Basal squamous', orange, tcgaBasal],
  ['Luminal infiltrated', red, tcgaInfiltrated],
  ['Luminal', sky, tcgaLuminal],
  ['Luminal papillary', green, tcgaPapillary],
  ['Neuronal', navy, tcgaNeuronal],
]
tcgaGroups.forEach(([name, color, rows], i) => {
  const offset = (i - 2) * 11.7
  addBoxes(name, color, rows, cTop, offset, 8)
  addBoxes(name, color, rows, cBot, offset, 8)
})

// panel D
const dTop = addGrid(
  { left: 708.5, top: 453, width: 225, height: 32 },
  { type: 'category', data: gseGenes, show: false },
  {
    type: 'value', min: 0.27, max: 1.5, offset: -2.5, axisLine: axisBlack, splitLine: { show: false },
    axisTick: Object.assign({ customValues: [0.5, 1, 1.5] }, tickBlack),
    axisLabel: { customValues: [0.5, 1, 1.5], fontSize: 11, fontWeight: 'bold', fontFamily: serif, color: '#111', margin: 3, formatter: v => v.toFixed(1) },
  }
)
const dBot = addGrid(
  { left: 708.5, top: 498, width: 225, height: 185 },
  {
    type: 'category', data: gseGenes, axisLine: axisBlack,
    axisTick: Object.assign({ alignWithLabel: true }, tickBlack),
    axisLabel: { interval: 0, fontSize: 12, fontWeight: 'bold', fontFamily: serif, color: '#111', margin: 7, rotate: 45 },
  },
  {
    type: 'value', min: -0.2, max: 0.2512, offset: -2.5, axisLine: axisBlack, splitLine: { show: false },
    axisTick: Object.assign({ customValues: [-0.2, 0, 0.2] }, tickBlack),
    axisLabel: { customValues: [-0.2, 0, 0.2], fontSize: 11, fontWeight: 'bold', fontFamily: serif, color: '#111', margin: 3, formatter: v => v.toFixed(1) },
  }
)
const gseGroups = [
  ['Basal', orange, gseBasal],
  ['Luminal infiltrated', red, gseInfiltrated],
  ['Luminal', '#0AA9F0', gseLuminal],
]
gseGroups.forEach(([name, color, rows], i) => {
  const offset = (i - 1) * 12.3
  addBoxes(name, color, rows, dTop, offset, 8.3)
  addBoxes(name, color, rows, dBot, offset, 8.3)
})

// axis breaks
function slash(x1, y1, x2, y2) {
  elements.push({ type: 'line', silent: true, z: 100, shape: { x1, y1, x2, y2 }, style: { stroke: '#111', lineWidth: 1.6 } })
}
slash(46.5, 640, 53, 646)
slash(47, 651, 54, 658)
slash(706, 481, 715, 490)
slash(708, 494, 716, 502)

// titles and panel letters
txt(805, 28, 'Correlation between 5 candidate markers', 'bold 14px ' + serif)
txt(279.5, 467, 'Expression of genes in different molecular subtypes in TCGA', 'bold 13.4px ' + serif)
txt(822, 426, 'GSE87304', 'bold 13px ' + serif)
txt(14, 583, 'expression normalized uisng R (log2)', 'bold 11.4px ' + serif, '#111', { rotation: Math.PI / 2 })
txt(677, 567, 'expression normalized uisng SCAN', 'bold 11.8px ' + serif, '#111', { rotation: Math.PI / 2 })
txt(21, 20, 'A', 'bold 17px ' + sans)
txt(597, 19, 'B', 'bold 17px ' + sans)
txt(20, 434, 'C', 'bold 17px ' + sans)
txt(646, 434, 'D', 'bold 17px ' + sans)

const chart = echarts.init(document.getElementById('main'))
chart.setOption({
  animation: false,
  backgroundColor: '#fff',
  grid, xAxis, yAxis, series,
  legend: [
    {
      data: tcgaGroups.map(g => g[0]), left: 536, top: 507, orient: 'vertical', selectedMode: false,
      icon: 'rect', itemWidth: 15, itemHeight: 9, itemGap: 8,
      itemStyle: { borderColor: '#444', borderWidth: 1 },
      textStyle: { fontFamily: serif, fontSize: 11.5, color: '#222' },
    },
    {
      data: gseGroups.map(g => g[0]), left: 966, top: 535, orient: 'vertical', selectedMode: false,
      icon: 'rect', itemWidth: 16, itemHeight: 10, itemGap: 8.7,
      itemStyle: { borderColor: '#444', borderWidth: 1 },
      textStyle: { fontFamily: serif, fontSize: 11.8, color: '#222' },
    },
  ],
  graphic: { elements },
})
</script>
</body>
</html>
